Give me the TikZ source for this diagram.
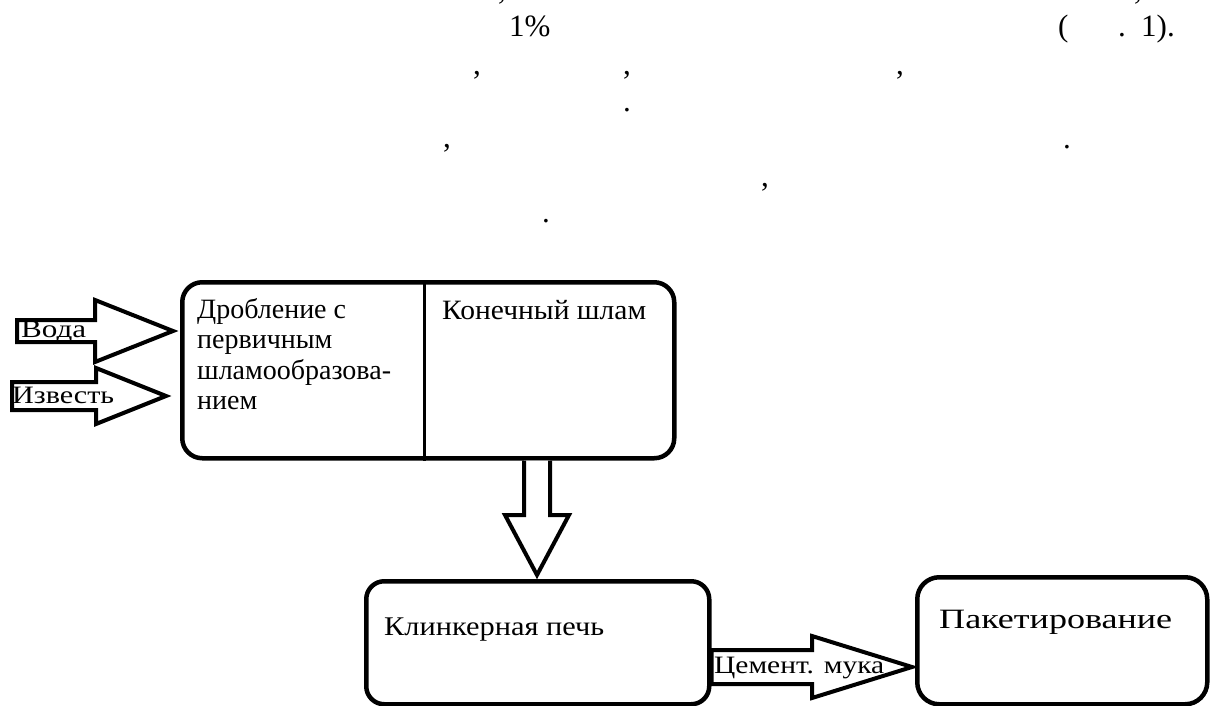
\documentclass[tikz,border=0pt]{standalone}
\usepackage{fontspec}
\setmainfont{Liberation Serif}
\usetikzlibrary{calc}
\newcommand\blockright[5]{\draw[blockarrow] let \p1=(#1), \p2=(#2) in
  (\x1,\y2-#3) -- (\x2-#5,\y2-#3) -- (\x2-#5,\y2-#4) -- (\x2,\y2) --
  (\x2-#5,\y2+#4) -- (\x2-#5,\y2+#3) -- (\x1,\y2+#3) -- cycle;}
\newcommand\blockdown[5]{\draw[blockarrow] let \p1=(#1), \p2=(#2) in
  (\x2-#3,\y1) -- (\x2-#3,\y2+#5) -- (\x2-#4,\y2+#5) -- (\x2,\y2) --
  (\x2+#4,\y2+#5) -- (\x2+#3,\y2+#5) -- (\x2+#3,\y1);}
\newcommand\widetext[2]{\resizebox{#1}{\height}{#2}}
\begin{document}
\begin{tikzpicture}[x=1pt,y=-1pt,
  boxstyle/.style={draw, line width=4.5pt, rounded corners=20pt, inner sep=0pt, anchor=north west},
  blockarrow/.style={draw, line width=4pt, line join=miter, fill=white},
  boxtext/.style={anchor=base west, inner sep=0pt, font=\fontsize{28}{30.5}\selectfont},
  arrowtext/.style={anchor=base west, inner sep=0pt, font=\fontsize{25}{28}\selectfont},
  ptext/.style={anchor=base west, inner sep=0pt, font=\fontsize{31}{37}\selectfont}]
\useasboundingbox (0,0) rectangle (1213,706);
\fill[white] (0,0) rectangle (1213,706);

% punctuation of the text above the figure (the first line is cut by the top edge)
\node[ptext] (p1) at (498,0) {,};
\node[ptext] (p2) at (1134,0) {,};
\node[ptext] (p3) at (509,37) {1\%};
\node[ptext] (p4) at (1058,37) {(};
\node[ptext] (p5) at (1118,37) {.};
\node[ptext] (p6) at (1141,37) {1).};
\node[ptext] (p7) at (473,75) {,};
\node[ptext] (p8) at (623,75) {,};
\node[ptext] (p9) at (896,75) {,};
\node[ptext] (p10) at (623,112) {.};
\node[ptext] (p11) at (443,148) {,};
\node[ptext] (p12) at (1063,149) {.};
\node[ptext] (p13) at (761,186) {,};
\node[ptext] (p14) at (542,222) {.};

% boxes
\node[boxstyle, minimum width=492pt, minimum height=176pt] (box1) at (180,280) {};
\draw[line width=3pt] ($(box1.north west)+(244,0)$) coordinate (divtop)
  -- ($(box1.south west)+(244,0)$) coordinate (divbot);
\node[boxstyle, rounded corners=18pt, minimum width=343pt, minimum height=123pt] (box2) at (364,579) {};
\node[boxstyle, rounded corners=22pt, minimum width=290pt, minimum height=127pt] (box3) at (915,575) {};

% box texts
\node[boxtext] (t1) at (197,318)
  {\begin{tabular}[t]{@{}l@{}}Дробление с\\первичным\\шламообразова-\\нием\end{tabular}};
\node[boxtext] (t2) at (442,319) {\widetext{204pt}{Конечный шлам}};
\node[boxtext, font=\fontsize{27}{30}\selectfont] (t3) at (384,635) {\widetext{220pt}{Клинкерная печь}};
\node[boxtext] (t4) at (939,628) {\widetext{233pt}{Пакетирование}};

% connectors
\coordinate (vodatail) at (17,331);
\coordinate (vodatip) at (173,331);
\blockright{vodatail}{vodatip}{11}{31}{78}
\coordinate (izvtail) at (12,396);
\coordinate (izvtip) at (166,396);
\blockright{izvtail}{izvtip}{14}{28}{70}
\coordinate (downtip) at ($(box2.north west)+(173,-4)$);
\blockdown{box1.south}{downtip}{13}{32}{60}
\coordinate (cemtip) at ($(box3.north west)+(-3,92)$);
\blockright{box2.east}{cemtip}{17}{31}{100}

% connector labels
\node[arrowtext] (l1) at (21,337) {\widetext{65pt}{Вода}};
\node[arrowtext] (l2) at (12,403) {\widetext{102pt}{Известь}};
\node[arrowtext] (l3) at (714,673) {\widetext{170pt}{Цемент. мука}};
\end{tikzpicture}
\end{document}
